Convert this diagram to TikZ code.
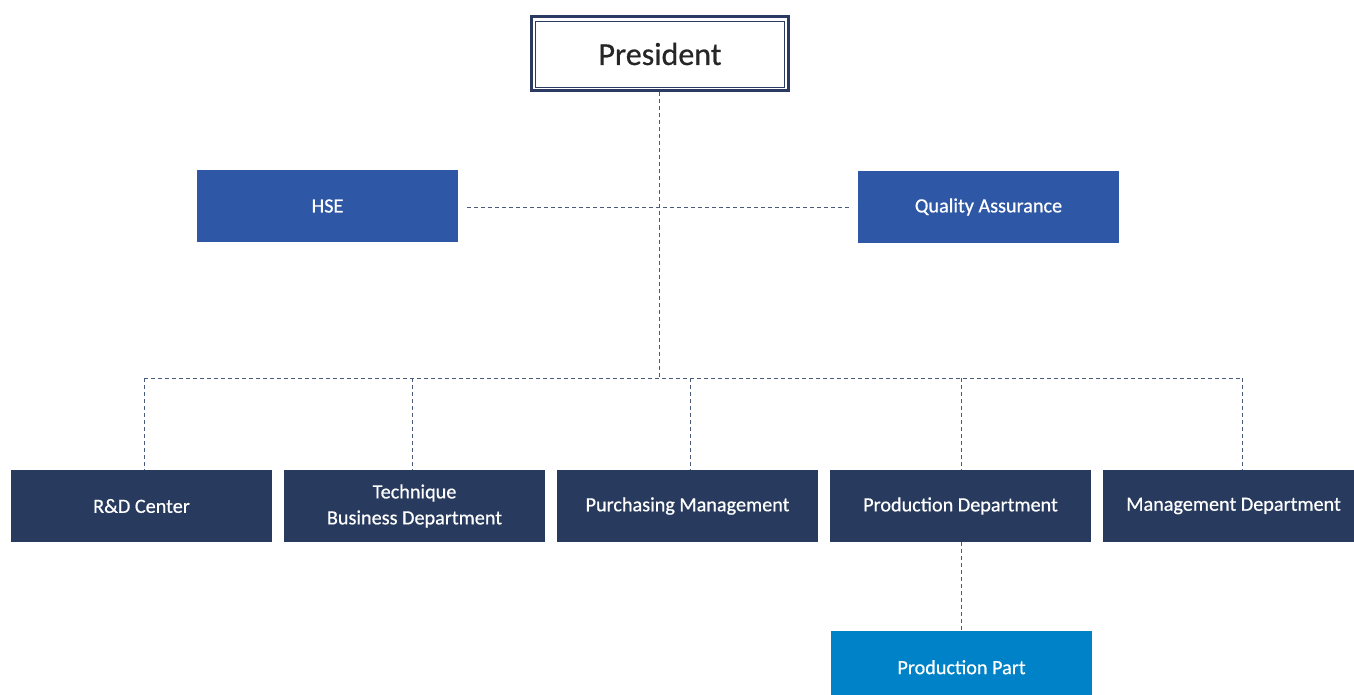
\documentclass[tikz,border=0pt]{standalone}
\usepackage{fontspec}
\setmainfont{Carlito}[FakeBold=0.6]
\begin{document}
\begin{tikzpicture}[x=1pt,y=-1pt,
  box/.style={draw=none,minimum width=261pt,minimum height=72pt,inner sep=0pt,text=white,font=\fontsize{20.2}{26}\selectfont,align=center},
  navybox/.style={box,fill=navy},
  bluebox/.style={box,fill=midblue},
  partbox/.style={box,fill=partblue},
  link/.style={draw=linkgray,line width=1pt,dash pattern=on 4pt off 3pt}]
\definecolor{navy}{HTML}{283A5E}
\definecolor{midblue}{HTML}{2E57A5}
\definecolor{partblue}{HTML}{0082C8}
\definecolor{linkgray}{HTML}{4A5A7A}
\definecolor{presborder}{HTML}{2A3A60}
\useasboundingbox (0,0) rectangle (1354,695);
\clip (0,0) rectangle (1354,695);
% President
\node[draw=presborder,line width=3pt,minimum width=257pt,minimum height=74pt,inner sep=0pt] (pres) at (660,54) {};
\node[draw=presborder,line width=0.8pt,minimum width=249pt,minimum height=66pt,inner sep=0pt,font=\fontsize{32}{34}\selectfont,text=black!85] (presin) at (660,54) {President};
% staff
\node[bluebox] (hse) at (327.5,206) {HSE};
\node[bluebox] (qa) at (988.5,207) {Quality Assurance};
% departments
\node[navybox] (rd) at (141.5,506) {R\&D Center};
\node[navybox] (tech) at (414.5,506) {Technique\\Business Department};
\node[navybox] (purch) at (687.5,506) {Purchasing Management};
\node[navybox] (prod) at (960.5,506) {Production Department};
\node[navybox] (mgmt) at (1233.5,506) {Management Department};
\node[partbox,anchor=north,minimum height=72pt] (part) at (961.5,631) {\raisebox{-8pt}{Production Part}};
% connectors
\coordinate (hub) at (659,378);
\coordinate (hl) at (467,208);
\coordinate (hr) at (852,208);
\draw[link] (pres.south -| hub) -- (hub);
\draw[link] (hl) -- (hr);
\coordinate (bl) at (144,378);
\coordinate (br) at (1242,378);
\draw[link] (bl) -- (br);
\draw[link] (bl) -- (bl |- rd.north);
\draw[link] (412,378) -- (412,470);
\draw[link] (690,378) -- (690,470);
\draw[link] (961,378) -- (961,470);
\draw[link] (br) -- (br |- mgmt.north);
\draw[link] (prod.south -| part.north) -- (part.north);
\end{tikzpicture}
\end{document}
